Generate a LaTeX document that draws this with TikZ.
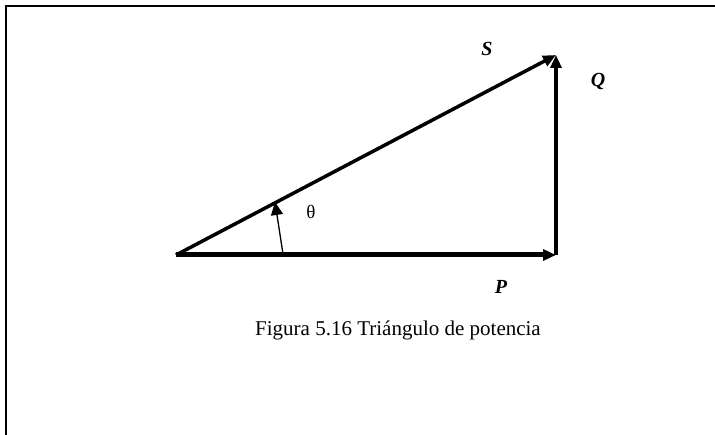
\documentclass[tikz,border=0pt]{standalone}
\usepackage{fontspec}
\setmainfont{Liberation Serif}
\usetikzlibrary{arrows.meta,positioning,calc}

\tikzset{
  side/.style={line width=3.5pt, -{Triangle[length=13pt,width=11pt]}},
  vlabel/.style={font=\fontsize{20}{24}\selectfont\bfseries\itshape},
}

\begin{document}
\begin{tikzpicture}[x=1pt,y=1pt]
  \useasboundingbox (0,0) rectangle (715,434);
  % Frame (only top and left edges visible)
  \draw[line width=2.5pt] (6,-10) -- (6,428) -- (725,428);

  % Corners of the triangle
  \coordinate (O) at (176,179);
  \coordinate (Pend) at (556,179);
  \coordinate (Qend) at (556,379);

  % P, Q and S
  \draw[side, line width=5pt] (O) -- (Pend);
  \draw[side] (Pend) -- (Qend);
  \draw[side] (O) -- (Qend);

  % Angle marker
  \coordinate (abase) at (283,180);
  \coordinate (atip) at (275,232);
  \draw[line width=1.3pt, -{Triangle[length=13pt,width=12pt]}] (abase) -- (atip);
  \node (theta) at (311,222) {\fontsize{19}{22}\selectfont θ};

  % Labels
  \node[vlabel] (S) at (487,385) {S};
  \node[vlabel] (Q) at (598,352) {Q};
  \node[vlabel] (P) at (501,147) {P};

  % Caption
  \node (caption) at (398,104) {\fontsize{21}{25}\selectfont Figura 5.16 Triángulo de potencia};
\end{tikzpicture}
\end{document}
